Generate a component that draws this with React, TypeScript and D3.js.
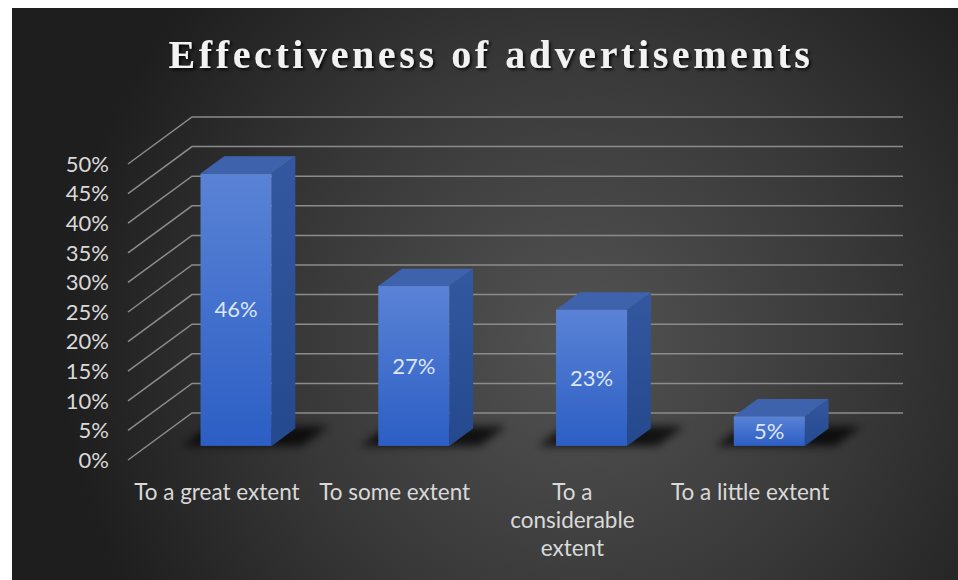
import React from "react";
import * as d3 from "d3";

const title = "Effectiveness of advertisements";
const categories = ["To a great extent", "To some extent", "To a considerable extent", "To a little extent"];
const categoryLines = [["To a great extent"], ["To some extent"], ["To a", "considerable", "extent"], ["To a little extent"]];
const values = [0.46, 0.27, 0.23, 0.05];
const valueLabels = ["46%", "27%", "23%", "5%"];
const ticks = [0, 0.05, 0.1, 0.15, 0.2, 0.25, 0.3, 0.35, 0.4, 0.45, 0.5];

const W = 958, H = 580;
const DX = 64, DY = -47; // depth projection
const Z0 = 0.3, Z1 = 0.67;

export default function App() {
  const x = d3.scaleBand<string>().domain(categories).range([128, 839]).paddingInner(0.6).paddingOuter(0.3);
  const y = d3.scaleLinear().domain([0, 0.5]).range([460, 164]);
  const fmt = d3.format(".0%");
  const p = (px: number, py: number, z: number) => [px + DX * z, py + DY * z];
  const pts = (arr: number[][]) => arr.map((a) => a.join(",")).join(" ");
  const font = "Lato, 'Open Sans', sans-serif";

  return (
    <svg width={W} height={H} style={{ position: "absolute", left: 0, top: 0 }}>
      <defs>
        <radialGradient id="bg" cx="580" cy="340" r="520" gradientUnits="userSpaceOnUse">
          <stop offset="0" stopColor="#535353" />
          <stop offset="0.55" stopColor="#383838" />
          <stop offset="1" stopColor="#1e1e1e" />
        </radialGradient>
        <linearGradient id="front" x1="0" y1="0" x2="0" y2="1">
          <stop offset="0" stopColor="#5a83d6" />
          <stop offset="1" stopColor="#2c5ec4" />
        </linearGradient>
        <linearGradient id="side" x1="0" y1="0" x2="0" y2="1">
          <stop offset="0" stopColor="#34589f" />
          <stop offset="1" stopColor="#24498f" />
        </linearGradient>
        <filter id="blur" x="-50%" y="-50%" width="200%" height="200%">
          <feGaussianBlur stdDeviation="4" />
        </filter>
        <filter id="tshadow" x="-10%" y="-30%" width="120%" height="160%">
          <feDropShadow dx="2" dy="2" stdDeviation="1.5" floodColor="#000" floodOpacity="0.8" />
        </filter>
      </defs>
      <rect x={0} y={0} width={W} height={H} fill="#ffffff" />
      <rect x={12} y={8} width={W - 12} height={H - 8} fill="url(#bg)" />

      <text x={491} y={68} textAnchor="middle" fill="#f2f2f2" filter="url(#tshadow)"
        style={{ fontFamily: "'Liberation Serif', 'Times New Roman', serif", fontWeight: 700, fontSize: 40, letterSpacing: 3.6 }}>
        {title}
      </text>

      {ticks.map((t) => {
        const a = p(128, y(t), 0), b = p(128, y(t), 1), c = p(839, y(t), 1);
        return (
          <g key={t}>
            <polyline points={pts([a, b, c])} fill="none" stroke="#8c8c8c" strokeWidth={1.5} />
            <text x={109} y={y(t)} dy="0.35em" textAnchor="end" fill="#d9d9d9" style={{ fontFamily: font, fontSize: 22 }}>
              {fmt(t)}
            </text>
          </g>
        );
      })}

      {categories.map((c, i) => {
        const x0 = x(c)!, x1 = x0 + x.bandwidth();
        const y0 = y(0), y1 = y(values[i]);
        const fl = p(x0, y0, Z0), fr = p(x1, y0, Z0);
        const frt = p(x1, y1, Z0), flt = p(x0, y1, Z0);
        const br = p(x1, y0, Z1), brt = p(x1, y1, Z1), blt = p(x0, y1, Z1);
        const shadow = [p(x0 - 18, y0, Z0), p(x1 + 30, y0, Z0), p(x1 + 30, y0, Z1 + 0.05), p(x0 - 18, y0, Z1 + 0.05)];
        return (
          <g key={c}>
            <polygon points={pts(shadow)} fill="#000" opacity={0.75} filter="url(#blur)" />
            <polygon points={pts([fr, frt, brt, br])} fill="url(#side)" />
            <polygon points={pts([flt, frt, brt, blt])} fill="#3f62ad" />
            <rect x={fl[0]} y={flt[1]} width={x1 - x0} height={fl[1] - flt[1]} fill="url(#front)" />
            <text x={(fl[0] + fr[0]) / 2} y={(fl[1] + flt[1]) / 2} dy="0.35em" textAnchor="middle" fill="#dde6f5"
              style={{ fontFamily: font, fontSize: 22 }}>
              {valueLabels[i]}
            </text>
          </g>
        );
      })}

      {categories.map((c, i) => (
        <text key={c} x={x(c)! + x.bandwidth() / 2} y={492} textAnchor="middle" fill="#d9d9d9" style={{ fontFamily: font, fontSize: 22.5 }}>
          {categoryLines[i].map((l, j) => (
            <tspan key={j} x={x(c)! + x.bandwidth() / 2} y={492 + j * 28} dy="0.35em">{l}</tspan>
          ))}
        </text>
      ))}
    </svg>
  );
}
